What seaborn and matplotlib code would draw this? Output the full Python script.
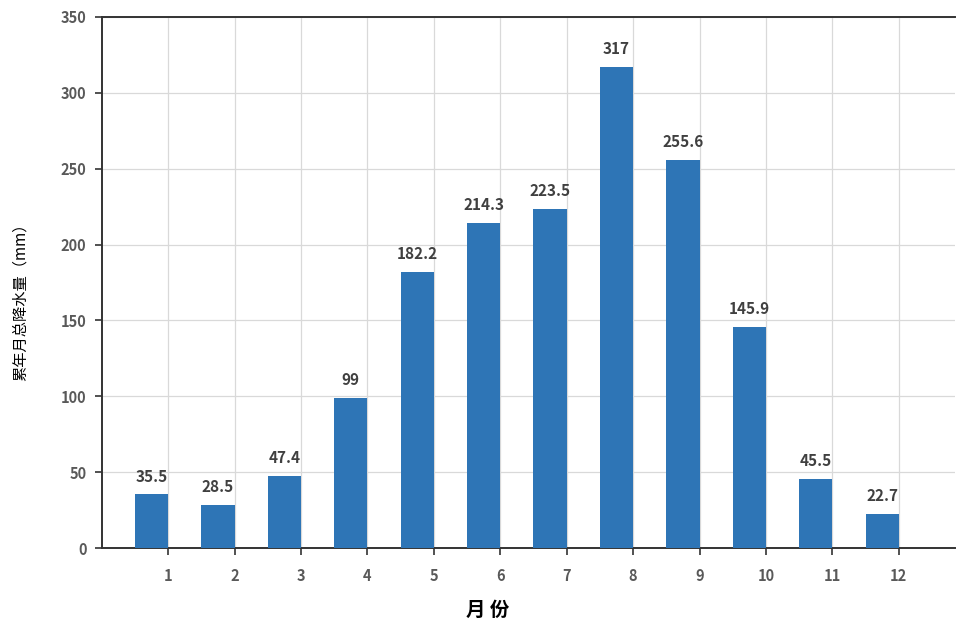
import numpy as np
import pandas as pd
import matplotlib
matplotlib.use("Agg")
import matplotlib.pyplot as plt
import seaborn as sns

# 数据：累年各月总降水量 (mm)
months = [1, 2, 3, 4, 5, 6, 7, 8, 9, 10, 11, 12]
rain = [35.5, 28.5, 47.4, 99, 182.2, 214.3, 223.5, 317, 255.6, 145.9, 45.5, 22.7]
bar_labels = ["35.5", "28.5", "47.4", "99", "182.2", "214.3", "223.5", "317",
              "255.6", "145.9", "45.5", "22.7"]
y_ticks = [0, 50, 100, 150, 200, 250, 300, 350]

sns.set_theme(style="white")
plt.rcParams['font.family'] = ['Noto Sans CJK SC', 'DejaVu Sans']

df = pd.DataFrame({'month': months, 'rain': rain})
# 柱子画在刻度左侧半格（与原图一致）
df['pos'] = df['month'] - 0.25

fig = plt.figure(figsize=(9.6, 6.25), dpi=100)
ax = fig.add_axes([0.106, 0.123, 0.889, 0.850])

sns.barplot(data=df, x='pos', y='rain', native_scale=True, width=0.5,
            color='#2E75B6', saturation=1, linewidth=0, ax=ax, zorder=3)

ax.set_xlim(0, 12.85)
ax.set_ylim(0, 350)
ax.set_xticks(months)
ax.set_xticklabels([str(m) for m in months])
ax.set_yticks(y_ticks)

ax.grid(True, color='#d9d9d9', linewidth=0.9, zorder=0)
ax.set_axisbelow(True)

ax.spines['right'].set_visible(False)
for s in ['left', 'bottom', 'top']:
    ax.spines[s].set_color('#333333')
    ax.spines[s].set_linewidth(1.4)

ax.tick_params(axis='both', direction='out', length=5, width=1.2, color='#333333',
               labelsize=10.5, labelcolor='#595959', pad=6, bottom=True, left=True)
ax.tick_params(axis='x', pad=9)
for lab in ax.get_xticklabels() + ax.get_yticklabels():
    lab.set_fontweight('bold')

for p, v, t in zip(df['pos'], rain, bar_labels):
    ax.annotate(t, (p, v), xytext=(0, 7), textcoords='offset points',
                ha='center', va='bottom', fontsize=11, fontweight='bold',
                color='#404040')

ax.set_xlabel('月 份', fontsize=14, fontweight='bold', color='#000000')
ax.xaxis.set_label_coords(0.452, -0.1)
ax.set_ylabel('累年月总降水量（mm）', fontsize=11, fontweight='medium', color='#000000')
ax.yaxis.set_label_coords(-0.085, 0.47)

fig.savefig('out.png', dpi=100)
